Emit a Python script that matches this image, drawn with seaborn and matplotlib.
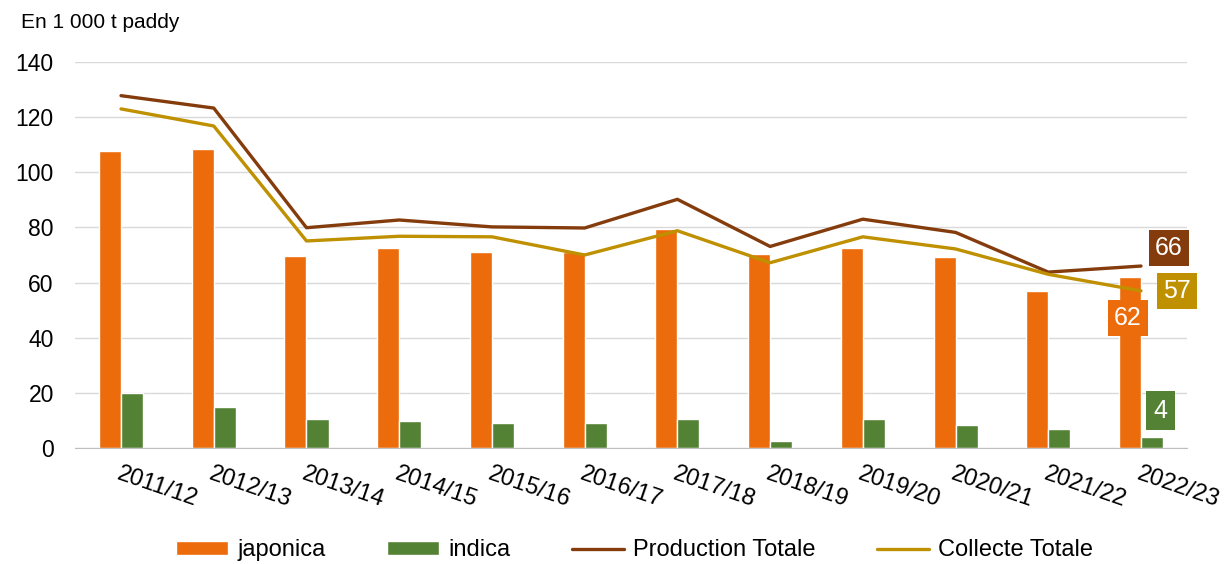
import numpy as np
import pandas as pd
import matplotlib.pyplot as plt
import seaborn as sns

sns.set_style("white")
plt.rcParams['font.family'] = ['Liberation Sans', 'DejaVu Sans']
plt.rcParams['text.color'] = 'black'
plt.rcParams['xtick.color'] = 'black'
plt.rcParams['ytick.color'] = 'black'

years = ['2011/12', '2012/13', '2013/14', '2014/15', '2015/16', '2016/17',
         '2017/18', '2018/19', '2019/20', '2020/21', '2021/22', '2022/23']
japonica = [107.8, 108.5, 69.5, 72.5, 71.0, 71.0, 79.4, 70.5, 72.7, 69.3, 57.0, 62.0]
indica = [20.0, 14.9, 10.5, 9.8, 9.0, 9.0, 10.5, 2.6, 10.5, 8.3, 6.9, 4.0]
production = [127.8, 123.3, 79.9, 82.7, 80.2, 79.8, 90.2, 73.1, 83.0, 78.2, 63.8, 66.0]
collecte = [123.0, 116.8, 75.1, 76.8, 76.6, 70.0, 78.8, 67.2, 76.6, 72.2, 63.0, 57.0]

orange = '#EC6C0C'
green = '#548235'
brown = '#843C0C'
gold = '#BF9000'

# long format for the bars
df = pd.DataFrame({
    'Campagne': years * 2,
    'Valeur': japonica + indica,
    'Type': ['japonica'] * len(years) + ['indica'] * len(years),
})
pos = np.arange(len(years))

fig = plt.figure(figsize=(12.26, 5.64), dpi=100)
ax = fig.add_axes([0.0609, 0.2057, 0.9076, 0.6843])

bar_w = 0.475
sns.barplot(data=df, x='Campagne', y='Valeur', hue='Type', ax=ax,
            palette=[orange, green], width=bar_w, saturation=1, zorder=2)
sns.lineplot(x=pos, y=production, ax=ax, color=brown, linewidth=2.4,
             label='Production Totale', zorder=3)
sns.lineplot(x=pos, y=collecte, ax=ax, color=gold, linewidth=2.4,
             label='Collecte Totale', zorder=3)

ax.set_xlim(-0.5, len(years) - 0.5)
ax.set_ylim(0, 140)
ax.set_yticks(range(0, 141, 20))
ax.yaxis.grid(True, color='#D9D9D9', linewidth=1, zorder=0)
ax.set_axisbelow(True)
for s in ['top', 'right', 'left']:
    ax.spines[s].set_visible(False)
ax.spines['bottom'].set_color('#BFBFBF')
ax.tick_params(axis='both', length=0)
ax.tick_params(axis='y', labelsize=16.5, pad=15)
ax.set_xlabel('')
ax.set_ylabel('')
ax.set_xticks(pos)
ax.set_xticklabels(years, rotation=-19, ha='left', va='top',
                   rotation_mode='anchor', fontsize=17)
ax.tick_params(axis='x', pad=11)

fig.text(0.017, 0.96, 'En 1 000 t paddy', fontsize=15, ha='left', va='center')

# value labels on the last season
last = len(years) - 1
off = bar_w / 4
lab = dict(fontsize=18, color='white', ha='center', va='center',
           textcoords='offset pixels')
ax.annotate(f'{production[last]:.0f}', (last, production[last]), xytext=(28, 18),
            bbox=dict(boxstyle='square,pad=0.25', fc=brown, ec='none'), **lab)
ax.annotate(f'{collecte[last]:.0f}', (last, collecte[last]), xytext=(36, 0),
            bbox=dict(boxstyle='square,pad=0.25', fc=gold, ec='none'), **lab)
ax.annotate(f'{japonica[last]:.0f}', (last - off, japonica[last]), xytext=(-2, -41),
            bbox=dict(boxstyle='square,pad=0.25', fc=orange, ec='none'), **lab)
ax.annotate(f'{indica[last]:.0f}', (last + off, indica[last]), xytext=(8, 26),
            bbox=dict(boxstyle='square,pad=0.3', fc=green, ec='none'), **lab)

handles, labels = ax.get_legend_handles_labels()
ax.get_legend().remove()
fig.legend(handles, labels, loc='center', bbox_to_anchor=(0.5175, 0.024),
           ncol=4, frameon=False, fontsize=17, handlelength=2.2,
           handleheight=0.55, handletextpad=0.4, columnspacing=2.6,
           borderpad=0.2)

fig.savefig('out.png', dpi=100)
